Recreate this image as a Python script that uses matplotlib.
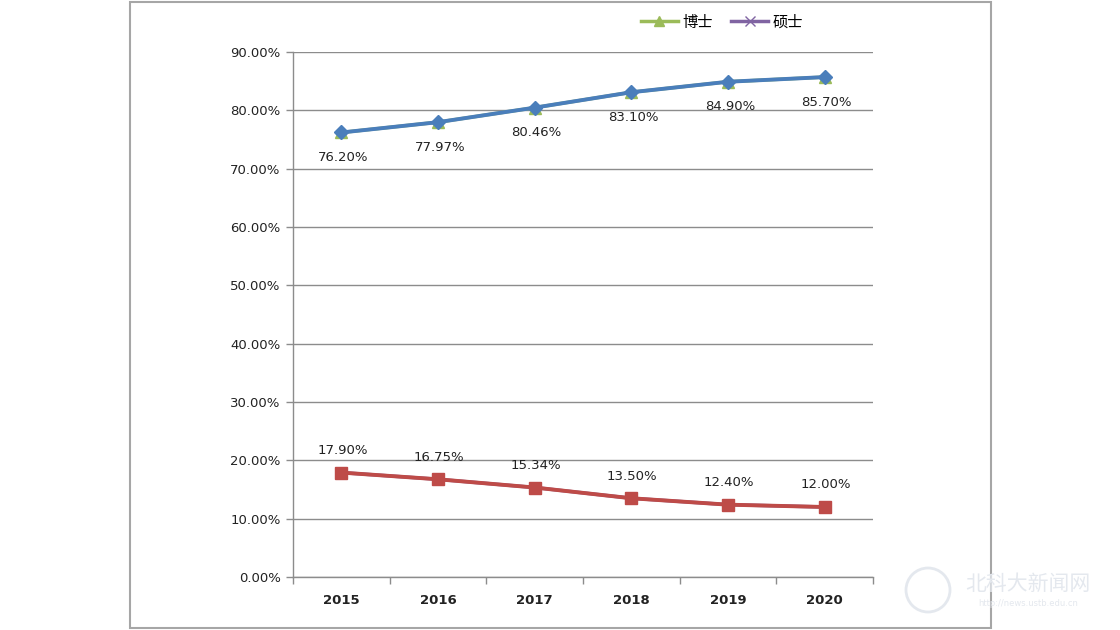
import matplotlib
matplotlib.use("Agg")
import matplotlib.pyplot as plt
from matplotlib.patches import Rectangle, Ellipse
from matplotlib.lines import Line2D

plt.rcParams['font.family'] = ['DejaVu Sans', 'Noto Sans CJK SC']

years = ['2015', '2016', '2017', '2018', '2019', '2020']
doctor = [76.20, 77.97, 80.46, 83.10, 84.90, 85.70]
master = [17.90, 16.75, 15.34, 13.50, 12.40, 12.00]
doctor_labels = ['76.20%', '77.97%', '80.46%', '83.10%', '84.90%', '85.70%']
master_labels = ['17.90%', '16.75%', '15.34%', '13.50%', '12.40%', '12.00%']
yticks = [0, 10, 20, 30, 40, 50, 60, 70, 80, 90]
legend_names = ['博士', '硕士']

fig = plt.figure(figsize=(11.2, 6.3), dpi=100)
fig.patch.set_facecolor('white')

# outer chart frame
fig.add_artist(Rectangle((130 / 1120, 1 - 628 / 630), (991 - 130) / 1120, (628 - 2) / 630,
                         transform=fig.transFigure, fill=False, edgecolor='#a6a6a6', linewidth=1.5))

ax = fig.add_axes([293 / 1120, 1 - 577 / 630, (873 - 293) / 1120, (577 - 52) / 630])
x = [i + 0.5 for i in range(len(years))]

grid_c = '#8c8c8c'
ax.set_xlim(0, len(years))
ax.set_ylim(0, 90)
ax.set_yticks(yticks)
ax.set_yticklabels([f'{v:.2f}%' for v in yticks], fontsize=9.5, color='#222222')
ax.yaxis.grid(True, color=grid_c, linewidth=1)
ax.set_axisbelow(True)
ax.set_xticks(range(len(years) + 1))
ax.set_xticklabels([])
ax.set_xticks(x, minor=True)
ax.set_xticklabels(years, minor=True, fontsize=9.5, fontweight='bold', color='#222222')
ax.tick_params(axis='x', which='minor', length=0, pad=12)
ax.tick_params(axis='x', which='major', length=5, color=grid_c, width=1)
ax.tick_params(axis='y', length=5, color=grid_c, width=1, pad=4)
for s in ['top', 'right']:
    ax.spines[s].set_visible(False)
for s in ['left', 'bottom']:
    ax.spines[s].set_color(grid_c)
    ax.spines[s].set_linewidth(1)

green = '#9bbb59'
purple = '#8064a2'
blue = '#4a7ebb'
red = '#be4b48'

# legend series (mostly hidden underneath)
ax.plot(x, doctor, color=green, marker='^', markersize=8, linewidth=2.5, zorder=3)
ax.plot(x, master, color=purple, marker='x', markersize=8, linewidth=2.5, zorder=3)
# visible series
ax.plot(x, doctor, color=blue, marker='D', markersize=7.5, linewidth=2.8, zorder=4)
ax.plot(x, master, color=red, marker='s', markersize=8, linewidth=2.8, zorder=4)

for xi, v, lab in zip(x, doctor, doctor_labels):
    ax.annotate(lab, (xi, v), xytext=(2, -25), textcoords='offset pixels',
                ha='center', va='center', fontsize=9.5, color='#222222')
for xi, v, lab in zip(x, master, master_labels):
    ax.annotate(lab, (xi, v), xytext=(1, 22), textcoords='offset pixels',
                ha='center', va='center', fontsize=9.5, color='#222222')

handles = [Line2D([], [], color=green, marker='^', markersize=7, linewidth=2.5),
           Line2D([], [], color=purple, marker='x', markersize=7, linewidth=2.5)]
fig.legend(handles, legend_names, loc='center', bbox_to_anchor=(722 / 1120, 1 - 22 / 630),
           ncol=2, frameon=False, handlelength=2.4, handletextpad=0.3,
           columnspacing=1.2, prop={'family': ['Noto Sans CJK SC'], 'size': 11})

# faint watermark
wm = '#e4e8ee'
fig.text(1028 / 1120, 1 - 584 / 630, '北科大新闻网', ha='center', va='center', fontsize=15,
         color=wm, family=['Noto Sans CJK SC'])
fig.text(1028 / 1120, 1 - 604 / 630, 'http://news.ustb.edu.cn', ha='center', va='center',
         fontsize=6, color=wm)
fig.add_artist(Ellipse((928 / 1120, 1 - 590 / 630), 44 / 1120, 44 / 630, transform=fig.transFigure,
                       fill=False, edgecolor=wm, linewidth=2))

fig.savefig('out.png', dpi=100, facecolor='white')
